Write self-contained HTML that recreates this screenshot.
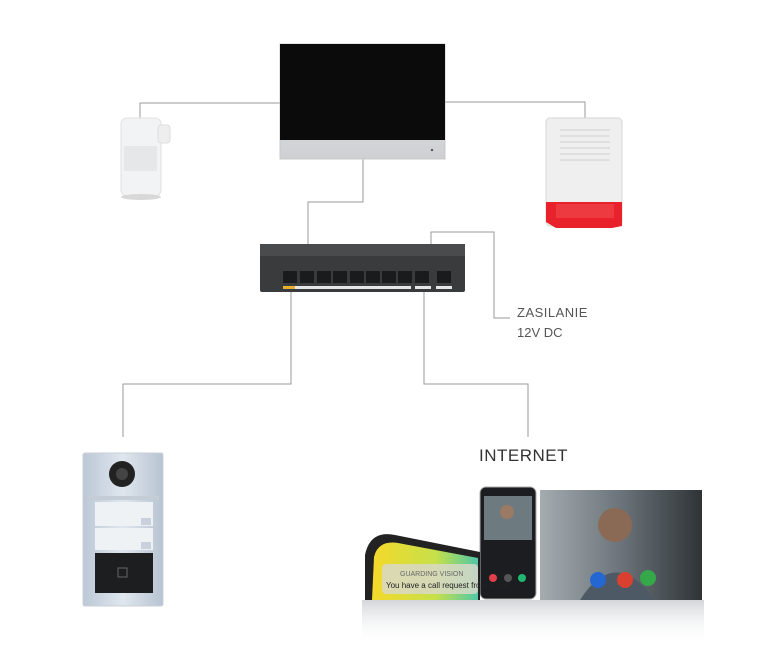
<!DOCTYPE html>
<html><head><meta charset="utf-8"><style>
html,body{margin:0;padding:0;background:#fff;}
svg{display:block;}
text{font-family:"Liberation Sans",sans-serif;}
</style></head><body>
<svg width="770" height="671" viewBox="0 0 770 671" xmlns="http://www.w3.org/2000/svg">
<defs>
<linearGradient id="silver" x1="0" y1="0" x2="0" y2="1"><stop offset="0" stop-color="#e8e8ea"/><stop offset="1" stop-color="#cfd0d3"/></linearGradient>
<linearGradient id="door" x1="0" y1="0" x2="1" y2="0"><stop offset="0" stop-color="#bcc8d6"/><stop offset=".5" stop-color="#dfe6ee"/><stop offset="1" stop-color="#b8c4d2"/></linearGradient>
<linearGradient id="refl" x1="0" y1="0" x2="0" y2="1"><stop offset="0" stop-color="#c8ccd0" stop-opacity="0.8"/><stop offset="1" stop-color="#fff" stop-opacity="0"/></linearGradient>
<linearGradient id="photo" x1="0" y1="0" x2="1" y2="0"><stop offset="0" stop-color="#a4acb0"/><stop offset=".5" stop-color="#6b747a"/><stop offset="1" stop-color="#2e3336"/></linearGradient>
<linearGradient id="scr" x1="0" y1="0" x2="1" y2="0"><stop offset="0" stop-color="#f5d92a"/><stop offset=".6" stop-color="#c6e04a"/><stop offset="1" stop-color="#50c8a8"/></linearGradient>
</defs>
<g fill="none" stroke="#9a9a9a" stroke-width="1">
<polyline points="140,118 140,103 280,103"/>
<polyline points="445,102 585,102 585,118"/>
<polyline points="363,159 363,202 308,202 308,245"/>
<polyline points="431,245 431,232 494,232 494,318 510,318"/>
<polyline points="291,290 291,384 123,384 123,437"/>
<polyline points="424,290 424,384 528,384 528,437"/>
</g>
<rect x="280" y="44" width="165" height="115" fill="url(#silver)" stroke="#c8c8c8"/>
<rect x="280" y="44" width="165" height="96" fill="#0b0b0c"/>
<circle cx="432" cy="150" r="1.2" fill="#555"/>
<rect x="121" y="118" width="40" height="78" rx="6" fill="#f2f3f4" stroke="#e0e0e0"/>
<rect x="158" y="125" width="12" height="18" rx="3" fill="#eeeeee" stroke="#ddd"/>
<rect x="124" y="146" width="33" height="25" fill="#e6e7e8"/>
<ellipse cx="141" cy="197" rx="20" ry="3" fill="#d8d8d8"/>
<rect x="546" y="118" width="76" height="108" rx="4" fill="#efefef" stroke="#d6d6d6"/>
<g stroke="#cfcfcf">
<line x1="560" y1="130" x2="610" y2="130"/><line x1="560" y1="136" x2="610" y2="136"/><line x1="560" y1="142" x2="610" y2="142"/><line x1="560" y1="148" x2="610" y2="148"/><line x1="560" y1="154" x2="610" y2="154"/><line x1="560" y1="160" x2="610" y2="160"/>
</g>
<path d="M546 202 L622 202 L622 226 L612 228 L556 228 L546 222 Z" fill="#e8212a"/>
<rect x="556" y="204" width="58" height="14" fill="#f04a50" opacity=".6"/>
<rect x="260" y="244" width="205" height="48" rx="2" fill="#3a3b3d"/>
<rect x="260" y="244" width="205" height="12" fill="#4a4b4d"/>
<g fill="#1a1b1c">
<rect x="283" y="271" width="14" height="12"/><rect x="300" y="271" width="14" height="12"/><rect x="317" y="271" width="14" height="12"/><rect x="333" y="271" width="14" height="12"/>
<rect x="350" y="271" width="14" height="12"/><rect x="366" y="271" width="14" height="12"/><rect x="382" y="271" width="14" height="12"/><rect x="398" y="271" width="14" height="12"/>
<rect x="415" y="271" width="14" height="12"/><rect x="437" y="271" width="14" height="12"/>
</g>
<rect x="283" y="286" width="128" height="3" fill="#e6e6e6"/>
<rect x="283" y="286" width="12" height="3" fill="#e8b030"/>
<rect x="415" y="286" width="16" height="3" fill="#e6e6e6"/>
<rect x="436" y="286" width="16" height="3" fill="#e6e6e6"/>
<text x="517" y="317" font-size="13" fill="#555" letter-spacing="0.5">ZASILANIE</text>
<text x="517" y="337" font-size="13" fill="#555">12V DC</text>
<text x="479" y="461" font-size="17" fill="#333" letter-spacing="0.5">INTERNET</text>
<rect x="83" y="453" width="80" height="153" rx="2" fill="url(#door)" stroke="#c8d0d8"/>
<circle cx="122" cy="474" r="13" fill="#222"/>
<circle cx="122" cy="474" r="6" fill="#444"/>
<rect x="87" y="496" width="72" height="4" fill="#c4ccd6"/>
<rect x="95" y="502" width="58" height="24" fill="#eef2f5"/>
<rect x="95" y="528" width="58" height="22" fill="#eef2f5"/>
<rect x="141" y="518" width="10" height="7" fill="#c9d2dc"/><rect x="141" y="542" width="10" height="7" fill="#c9d2dc"/>
<rect x="95" y="553" width="58" height="40" fill="#1d1e20"/>
<rect x="118" y="568" width="9" height="9" fill="none" stroke="#666"/>
<rect x="540" y="490" width="162" height="110" fill="url(#photo)"/>
<circle cx="615" cy="525" r="17" fill="#8a6a55"/>
<path d="M580 600 Q615 545 655 600 Z" fill="#4d5a66"/>
<circle cx="598" cy="580" r="8" fill="#2467d2"/><circle cx="625" cy="580" r="8" fill="#d94030"/><circle cx="648" cy="578" r="8" fill="#35a84a"/>
<rect x="480" y="487" width="56" height="112" rx="6" fill="#1c1d20" stroke="#aaa"/>
<rect x="484" y="496" width="48" height="44" fill="#6d7a80"/>
<circle cx="507" cy="512" r="7" fill="#9a7a62"/>
<circle cx="493" cy="578" r="4" fill="#e0404a"/><circle cx="508" cy="578" r="4" fill="#555"/><circle cx="522" cy="578" r="4" fill="#20b870"/>
<path d="M365 600 L365 555 Q370 530 395 535 L480 552 L480 600 Z" fill="#222"/>
<path d="M372 600 L374 557 Q378 540 398 543 L478 558 L478 600 Z" fill="url(#scr)"/>
<rect x="382" y="564" width="96" height="30" rx="4" fill="#d8d8c8" opacity=".85"/>
<text x="400" y="576" font-size="7" fill="#666">GUARDING VISION</text>
<text x="386" y="588" font-size="8" fill="#222">You have a call request from a visit</text>
<rect x="362" y="600" width="342" height="45" fill="url(#refl)"/>
</svg>
</body></html>
